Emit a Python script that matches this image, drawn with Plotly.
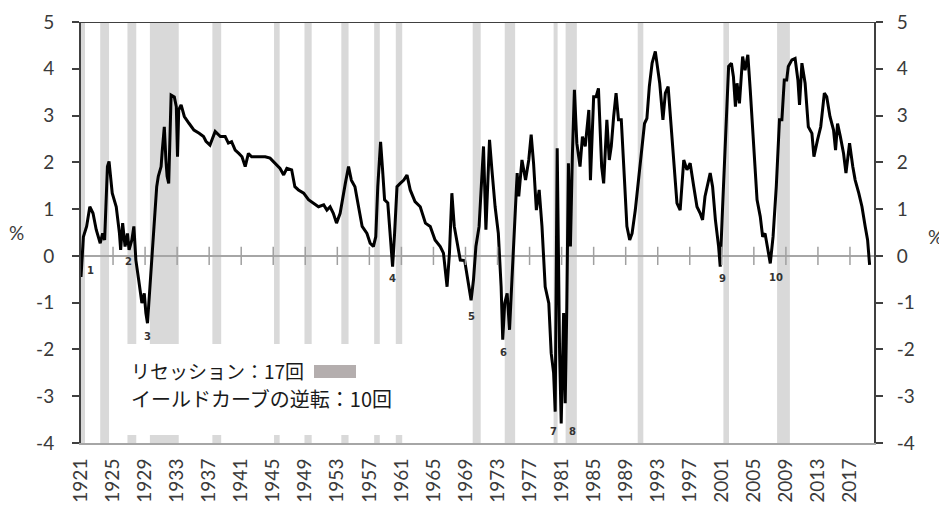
import plotly.graph_objects as go

# ---- data ----
years = [
    1921.0, 1921.3, 1921.7, 1922.1, 1922.5, 1922.9, 1923.4, 1923.7, 1923.95, 1924.3,
    1924.5, 1924.9, 1925.4, 1925.8, 1925.95, 1926.2, 1926.5, 1926.8, 1927.0, 1927.35,
    1927.6, 1927.85, 1928.2, 1928.6, 1928.9, 1929.1, 1929.3, 1929.5, 1929.7, 1929.95,
    1930.2, 1930.45, 1930.65, 1931.0, 1931.15, 1931.4, 1931.6, 1931.75, 1931.95, 1932.1,
    1932.25, 1932.65, 1932.9, 1933.05, 1933.2, 1933.5, 1933.9, 1934.5, 1935.1, 1935.75,
    1936.3, 1936.6, 1937.1, 1937.75, 1938.4, 1939.0, 1939.4, 1939.8, 1940.25, 1940.7,
    1941.1, 1941.5, 1941.9, 1942.3, 1943.2, 1944.0, 1944.6, 1945.25, 1945.85, 1946.3,
    1946.7, 1947.3, 1947.7, 1948.15, 1948.8, 1949.4, 1950.05, 1950.65, 1951.3, 1951.7,
    1952.1, 1952.5, 1952.9, 1953.35, 1954.0, 1954.4, 1954.75, 1955.2, 1955.65, 1956.1,
    1956.7, 1957.1, 1957.5, 1957.8, 1958.05, 1958.4, 1958.65, 1958.9, 1959.3, 1959.6,
    1959.9, 1960.15, 1960.45, 1960.85, 1961.3, 1961.7, 1962.1, 1962.7, 1963.35, 1964.0,
    1964.6, 1965.2, 1965.85, 1966.25, 1966.7, 1967.0, 1967.3, 1967.6, 1967.9, 1968.35,
    1968.9, 1969.4, 1969.7, 1970.0, 1970.3, 1970.7, 1971.25, 1971.55, 1972.0, 1972.3,
    1972.7, 1973.1, 1973.45, 1973.65, 1973.9, 1974.2, 1974.5, 1974.8, 1975.15, 1975.45,
    1975.65, 1976.05, 1976.5, 1976.9, 1977.2, 1977.5, 1977.85, 1978.2, 1978.55, 1978.95,
    1979.4, 1979.7, 1980.0, 1980.2, 1980.45, 1980.75, 1980.95, 1981.25, 1981.45, 1981.65,
    1981.85, 1982.1, 1982.35, 1982.6, 1982.9, 1983.3, 1983.6, 1983.95, 1984.4, 1984.6,
    1985.0, 1985.3, 1985.6, 1986.0, 1986.25, 1986.65, 1986.95, 1987.2, 1987.5, 1987.8,
    1988.1, 1988.45, 1988.85, 1989.15, 1989.5, 1989.8, 1990.2, 1990.6, 1991.0, 1991.35,
    1991.65, 1991.95, 1992.3, 1992.7, 1992.9, 1993.25, 1993.65, 1993.95, 1994.3, 1994.55,
    1995.0, 1995.4, 1995.8, 1996.25, 1996.65, 1997.05, 1997.5, 1997.9, 1998.3, 1998.6,
    1998.9, 1999.55, 1999.85, 2000.2, 2000.6, 2000.8, 2001.1, 2001.4, 2001.85, 2002.2,
    2002.45, 2002.7, 2002.9, 2003.2, 2003.6, 2003.9, 2004.25, 2004.55, 2005.0, 2005.4,
    2005.8, 2006.1, 2006.4, 2006.85, 2007.05, 2007.4, 2007.8, 2008.2, 2008.5, 2008.8,
    2009.1, 2009.3, 2009.75, 2010.15, 2010.5, 2010.7, 2011.0, 2011.4, 2011.8, 2012.25,
    2012.5, 2012.95, 2013.35, 2013.8, 2014.1, 2014.5, 2014.95, 2015.2, 2015.45, 2015.8,
    2016.2, 2016.5, 2016.95, 2017.35, 2017.65, 2018.1, 2018.5, 2018.9, 2019.2, 2019.45,
]
spread = [
    -0.45, 0.41, 0.63, 1.05, 0.91, 0.56, 0.27, 0.48, 0.34, 1.91,
    2.02, 1.34, 1.05, 0.48, 0.13, 0.70, 0.20, 0.48, 0.13, 0.34,
    0.63, -0.09, -0.51, -1.01, -0.80, -1.22, -1.44, -0.94, -0.37, 0.34,
    0.91, 1.48, 1.70, 1.91, 2.26, 2.76, 2.05, 1.70, 1.55, 2.76,
    3.44, 3.40, 3.19, 2.12, 3.12, 3.23, 2.98, 2.83, 2.69, 2.62,
    2.55, 2.45, 2.37, 2.66, 2.55, 2.55, 2.41, 2.44, 2.26, 2.19,
    2.12, 1.91, 2.19, 2.12, 2.12, 2.12, 2.09, 1.98, 1.87, 1.73,
    1.87, 1.84, 1.48, 1.41, 1.34, 1.20, 1.13, 1.05, 1.09, 0.98,
    1.05, 0.91, 0.70, 0.91, 1.55, 1.91, 1.62, 1.48, 1.05, 0.63,
    0.48, 0.27, 0.20, 0.41, 1.48, 2.44, 1.84, 1.20, 1.13, 0.41,
    -0.23, 0.48, 1.48, 1.55, 1.62, 1.73, 1.41, 1.16, 1.05, 0.70,
    0.63, 0.34, 0.20, 0.06, -0.66, 0.06, 1.34, 0.63, 0.34, -0.09,
    -0.10, -0.60, -0.95, -0.51, 0.20, 0.63, 2.34, 0.56, 2.48, 1.84,
    1.05, 0.48, -0.66, -1.79, -1.01, -0.80, -1.58, -0.51, 0.63, 1.77,
    1.27, 2.05, 1.62, 2.05, 2.59, 1.98, 0.98, 1.41, 0.63, -0.66,
    -1.01, -2.08, -2.50, -3.33, 2.30, -2.08, -3.58, -1.22, -3.15, -1.08,
    1.98, 0.20, 2.19, 3.55, 2.41, 1.91, 2.55, 2.34, 3.12, 1.62,
    3.40, 3.40, 3.58, 1.91, 1.55, 2.91, 2.05, 2.34, 2.98, 3.48,
    2.91, 2.91, 1.62, 0.63, 0.34, 0.48, 0.98, 1.62, 2.19, 2.83,
    2.94, 3.62, 4.12, 4.37, 4.12, 3.69, 2.91, 3.48, 3.62, 3.05,
    2.19, 1.13, 0.98, 2.05, 1.84, 1.98, 1.48, 1.05, 0.91, 0.77,
    1.27, 1.77, 1.48, 0.77, 0.20, -0.23, 1.05, 2.19, 4.05, 4.12,
    3.83, 3.19, 3.69, 3.26, 4.26, 3.97, 4.30, 3.55, 2.19, 1.20,
    0.84, 0.41, 0.48, -0.01, -0.16, 0.41, 1.48, 2.91, 2.91, 3.76,
    3.76, 4.05, 4.19, 4.22, 3.76, 3.23, 4.12, 3.69, 2.76, 2.62,
    2.12, 2.48, 2.76, 3.48, 3.40, 2.98, 2.69, 2.26, 2.83, 2.55,
    2.19, 1.77, 2.41, 1.91, 1.62, 1.34, 1.05, 0.63, 0.34, -0.19,
]

rec_start = [1921.0, 1923.4, 1926.8, 1929.6, 1937.4, 1945.1, 1948.9, 1953.5, 1957.6,
             1960.3, 1969.9, 1973.9, 1980.0, 1981.5, 1990.5, 2001.2, 2007.9]
rec_end = [1921.5, 1924.5, 1927.9, 1933.2, 1938.5, 1945.8, 1949.8, 1954.4, 1958.3,
           1961.1, 1970.9, 1975.2, 1980.5, 1982.9, 1991.2, 2001.9, 2009.5]

inv_labels = ["1", "2", "3", "4", "5", "6", "7", "8", "9", "10"]
inv_x = [1922.15, 1926.9, 1929.35, 1959.9, 1969.7, 1973.8, 1980.0, 1982.3, 2001.1, 2007.8]
inv_y = [-0.32, -0.13, -1.73, -0.49, -1.30, -2.07, -3.75, -3.75, -0.48, -0.46]

tick_years = list(range(1921, 2018, 4))
tick_text = [str(y) for y in tick_years]
y_ticks = [5, 4, 3, 2, 1, 0, -1, -2, -3, -4]

legend_line1 = "リセッション：17回"
legend_line2 = "イールドカーブの逆転：10回"

# ---- figure ----
TXT = "#3a3a3a"
AX_FONT = dict(family="Lato, Open Sans, sans-serif", size=19, color=TXT)

# the page body adds an 8px margin; work in window pixels and subtract it
OFF = 8
FIG_W, FIG_H = 947 - OFF, 509 - OFF
PLOT_L, PLOT_R, PLOT_T, PLOT_B = 81 - OFF, 874 - OFF, 22 - OFF, 443 - OFF
W, H = PLOT_R - PLOT_L, PLOT_B - PLOT_T


def px(x):
    return (x - OFF - PLOT_L) / W


def py(y):
    return (PLOT_B - (y - OFF)) / H


fig = go.Figure()

fig.add_trace(go.Scatter(
    x=years, y=spread, mode="lines",
    line=dict(color="#000000", width=3),
    hoverinfo="skip", showlegend=False,
))

# tick marks sitting on the zero line
fig.add_trace(go.Scatter(
    x=tick_years[1:], y=[0] * (len(tick_years) - 1), mode="markers",
    marker=dict(symbol="line-ns", size=13, line=dict(width=1.5, color="#a0a0a0")),
    hoverinfo="skip", showlegend=False,
))

# invisible trace so the right axis renders
fig.add_trace(go.Scatter(
    x=[years[0]], y=[spread[0]], yaxis="y2", mode="markers",
    marker=dict(opacity=0), hoverinfo="skip", showlegend=False,
))

# recession shading
for s, e in zip(rec_start, rec_end):
    fig.add_shape(type="rect", xref="x", yref="paper", x0=s, x1=e, y0=0, y1=1,
                  fillcolor="#d9d9d9", line=dict(width=0), layer="below")

# legend box (white) over the shading
fig.add_shape(type="rect", xref="paper", yref="paper",
              x0=px(125), x1=px(410), y0=py(435), y1=py(344),
              fillcolor="#ffffff", line=dict(width=0), layer="below")
# legend swatch
fig.add_shape(type="rect", xref="paper", yref="paper",
              x0=px(314), x1=px(356), y0=py(378), y1=py(365),
              fillcolor="#b4aeae", line=dict(width=0), layer="above")
# top border line
fig.add_shape(type="line", xref="paper", yref="y", x0=0, x1=1, y0=5, y1=5,
              line=dict(color="#404040", width=2), layer="above")

ann = []
ann.append(dict(text=legend_line1, xref="paper", yref="paper", x=px(129), y=py(370),
                xanchor="left", yanchor="middle", showarrow=False,
                font=dict(family="Noto Sans CJK JP", size=19, color="#1a1a1a")))
ann.append(dict(text=legend_line2, xref="paper", yref="paper", x=px(129), y=py(398),
                xanchor="left", yanchor="middle", showarrow=False,
                font=dict(family="Noto Sans CJK JP", size=20, color="#1a1a1a")))
for lab, x, y in zip(inv_labels, inv_x, inv_y):
    ann.append(dict(text="<b>" + lab + "</b>", x=x, y=y, xref="x", yref="y",
                    showarrow=False, xanchor="center", yanchor="middle",
                    font=dict(family="DejaVu Sans", size=10, color="#333333")))
ann.append(dict(text="%", xref="paper", yref="paper", x=px(7), y=py(232),
                showarrow=False, xanchor="left", yanchor="middle", font=AX_FONT))
ann.append(dict(text="%", xref="paper", yref="paper", x=px(945), y=py(236),
                showarrow=False, xanchor="right", yanchor="middle", font=AX_FONT))

yax = dict(range=[-4, 5], tickvals=y_ticks, ticktext=[str(v) for v in y_ticks],
           showline=True, linecolor="#404040", linewidth=2,
           ticks="outside", ticklen=7, tickwidth=1.5, tickcolor="#404040",
           showgrid=False, tickfont=AX_FONT, fixedrange=True, automargin=False)

fig.update_layout(
    width=FIG_W, height=FIG_H,
    margin=dict(l=PLOT_L, r=FIG_W - PLOT_R, t=PLOT_T, b=FIG_H - PLOT_B, autoexpand=False),
    paper_bgcolor="#ffffff", plot_bgcolor="#ffffff",
    showlegend=False,
    xaxis=dict(range=[1921, 2020], tickvals=tick_years, ticktext=tick_text,
               tickangle=-90, showline=True, linecolor="#a6a6a6", linewidth=2,
               ticks="", showgrid=False, zeroline=False, tickfont=AX_FONT,
               ticklabelstandoff=6, automargin=False),
    yaxis=dict(**yax, zeroline=True, zerolinecolor="#a6a6a6", zerolinewidth=2,
               side="left", ticklabelstandoff=14),
    yaxis2=dict(**yax, zeroline=False, overlaying="y", side="right",
                ticklabelstandoff=10),
    annotations=ann,
)

fig.write_html("out.html")
